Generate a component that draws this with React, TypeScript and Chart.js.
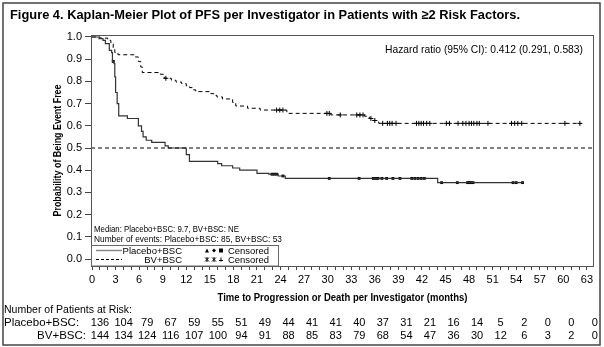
import React, { useEffect, useRef } from "react";
import { Chart, registerables } from "chart.js";

Chart.register(...registerables);

const FONT = '"Liberation Sans", Arial, Helvetica, sans-serif';

// Kaplan-Meier step points (time in months, survival probability)
const placeboTimes = [0, 0.9, 1.4, 1.7, 2.2, 2.5, 2.6, 2.8, 2.9, 3.0, 3.2, 3.4, 4.5, 5.9, 6.3, 6.5, 6.9, 7.6, 9.3, 9.7, 12.0, 12.4, 16.0, 16.5, 17.9, 18.8, 21.0, 22.5, 23.7, 24.6, 44.0, 54.9];
const placeboSurv = [1.0, 0.993, 0.985, 0.97, 0.94, 0.93, 0.89, 0.88, 0.82, 0.75, 0.7, 0.645, 0.633, 0.6, 0.575, 0.55, 0.535, 0.525, 0.51, 0.5, 0.47, 0.44, 0.43, 0.42, 0.41, 0.4, 0.386, 0.382, 0.374, 0.363, 0.344, 0.344];
const placeboCensor = [2.7, 22.9, 23.2, 23.5, 24.3, 30.2, 34.0, 35.8, 36.1, 36.4, 36.9, 37.5, 38.3, 39.2, 40.7, 41.1, 41.5, 41.9, 42.3, 44.5, 46.5, 47.8, 48.0, 48.2, 48.5, 53.6, 54.0, 54.8];

const bvTimes = [0, 1.0, 2.0, 2.4, 2.7, 2.9, 3.3, 5.5, 5.9, 6.2, 6.4, 8.7, 9.2, 10.1, 10.7, 11.4, 12.0, 12.4, 12.9, 13.2, 15.0, 15.5, 15.9, 16.6, 17.9, 18.3, 19.8, 21.4, 24.8, 30.4, 34.7, 35.3, 35.7, 36.2, 36.5, 62.2];
const bvSurv = [1.0, 0.995, 0.985, 0.97, 0.95, 0.93, 0.92, 0.91, 0.89, 0.865, 0.84, 0.832, 0.814, 0.805, 0.797, 0.79, 0.78, 0.772, 0.762, 0.754, 0.745, 0.737, 0.73, 0.721, 0.705, 0.689, 0.679, 0.671, 0.656, 0.649, 0.643, 0.633, 0.624, 0.617, 0.611, 0.611];
const bvCensor = [9.4, 23.5, 23.9, 24.3, 29.9, 30.2, 31.6, 33.7, 34.1, 34.5, 35.5, 36.0, 37.0, 37.6, 37.9, 38.2, 38.7, 41.3, 41.6, 41.9, 42.2, 42.6, 43.0, 45.1, 45.5, 46.6, 47.2, 47.6, 48.0, 48.3, 48.6, 49.0, 49.3, 50.4, 53.4, 53.8, 54.2, 54.7, 60.2, 62.1];

const yTickValues = [0, 0.1, 0.2, 0.3, 0.4, 0.5, 0.6, 0.7, 0.8, 0.9, 1.0];
const xLabelValues = [0, 3, 6, 9, 12, 15, 18, 21, 24, 27, 30, 33, 36, 39, 42, 45, 48, 51, 54, 57, 60, 63];
const xMinorValues = Array.from({ length: 64 }, (_, i) => i);

const riskTimes = xLabelValues;
const riskPlacebo = [136, 104, 79, 67, 59, 55, 51, 49, 44, 41, 41, 40, 37, 31, 21, 16, 14, 5, 2, 0, 0, 0];
const riskBV = [144, 134, 124, 116, 107, 100, 94, 91, 88, 85, 83, 79, 68, 54, 47, 36, 30, 12, 6, 3, 2, 0];

const titleText = "Figure 4. Kaplan-Meier Plot of PFS per Investigator in Patients with \u22652 Risk Factors.";
const hazardText = "Hazard ratio (95% CI): 0.412 (0.291, 0.583)";
const medianText = "Median: Placebo+BSC: 9.7, BV+BSC: NE";
const eventsText = "Number of events: Placebo+BSC: 85, BV+BSC: 53";
const xTitle = "Time to Progression or Death per Investigator (months)";
const yTitle = "Probability of Being Event Free";

const X_MIN = -0.13;
const X_MAX = 63.9;
const Y_MIN = -0.0315;
const Y_MAX = 1.009;

function survAt(times: number[], surv: number[], t: number): number {
  let s = surv[0];
  for (let i = 0; i < times.length; i++) if (times[i] <= t) s = surv[i];
  return s;
}

const overlayPlugin = {
  id: "overlay",
  afterDraw(chart: any) {
    const ctx: CanvasRenderingContext2D = chart.ctx;
    const ca = chart.chartArea;
    const xs = chart.scales.x;
    ctx.save();
    // outer border
    ctx.strokeStyle = "#444";
    ctx.lineWidth = 1.5;
    ctx.strokeRect(3, 3, 597, 342);
    // plot frame
    ctx.strokeStyle = "#555";
    ctx.lineWidth = 1;
    ctx.strokeRect(ca.left + 0.5, ca.top + 0.5, ca.right - ca.left - 1, ca.bottom - ca.top);

    ctx.fillStyle = "#000";
    ctx.textBaseline = "alphabetic";
    // title
    ctx.font = `bold 13px ${FONT}`;
    ctx.textAlign = "left";
    ctx.fillText(titleText, 10, 19, 510);

    // hazard ratio
    ctx.font = `10.5px ${FONT}`;
    ctx.textAlign = "right";
    ctx.fillText(hazardText, 583, 53, 198);

    // median & events
    ctx.font = `9.5px ${FONT}`;
    ctx.textAlign = "left";
    ctx.fillText(medianText, 94, 232, 145);
    ctx.fillText(eventsText, 94, 241.5, 188);

    // legend box
    ctx.strokeStyle = "#666";
    ctx.lineWidth = 1;
    ctx.strokeRect(ca.left + 0.5, 245.5, 187, ca.bottom - 245.5);
    // row 1
    ctx.strokeStyle = "#888";
    ctx.lineWidth = 1.5;
    ctx.beginPath();
    ctx.moveTo(96, 250.5);
    ctx.lineTo(122, 250.5);
    ctx.stroke();
    // row 2
    ctx.strokeStyle = "#000";
    ctx.lineWidth = 1;
    ctx.setLineDash([3, 2]);
    ctx.beginPath();
    ctx.moveTo(96, 259.5);
    ctx.lineTo(122, 259.5);
    ctx.stroke();
    ctx.setLineDash([]);
    ctx.font = `9.5px ${FONT}`;
    ctx.textAlign = "right";
    ctx.fillText("Placebo+BSC", 182, 254);
    ctx.fillText("BV+BSC", 182, 263);
    ctx.textAlign = "left";
    ctx.fillText("Censored", 228, 254, 41);
    ctx.fillText("Censored", 228, 263, 41);
    // censored symbols row 1: triangle, diamond, square
    ctx.fillStyle = "#000";
    ctx.beginPath();
    ctx.moveTo(205, 252.5); ctx.lineTo(209, 252.5); ctx.lineTo(207, 248.5); ctx.closePath(); ctx.fill();
    ctx.beginPath();
    ctx.moveTo(212, 250.5); ctx.lineTo(214, 248.5); ctx.lineTo(216, 250.5); ctx.lineTo(214, 252.5); ctx.closePath(); ctx.fill();
    ctx.fillRect(219, 248.5, 4, 4);
    // row 2: stars and plus
    ctx.strokeStyle = "#000";
    ctx.lineWidth = 1;
    const star = (cx: number, cy: number) => {
      ctx.beginPath();
      ctx.moveTo(cx - 2, cy - 2); ctx.lineTo(cx + 2, cy + 2);
      ctx.moveTo(cx + 2, cy - 2); ctx.lineTo(cx - 2, cy + 2);
      ctx.moveTo(cx, cy - 2.5); ctx.lineTo(cx, cy + 2.5);
      ctx.stroke();
    };
    star(207, 259.5);
    star(214, 259.5);
    ctx.beginPath();
    ctx.moveTo(219, 260.5); ctx.lineTo(223, 260.5); ctx.moveTo(221, 257.5); ctx.lineTo(221, 261.5);
    ctx.stroke();

    // axis titles
    ctx.fillStyle = "#000";
    ctx.font = `bold 10px ${FONT}`;
    ctx.textAlign = "center";
    ctx.fillText(xTitle, (ca.left + ca.right) / 2, 301, 250);
    ctx.save();
    ctx.translate(61, (ca.top + ca.bottom) / 2);
    ctx.rotate(-Math.PI / 2);
    ctx.fillText(yTitle, 0, 0, 132);
    ctx.restore();

    // risk table
    ctx.font = `11.5px ${FONT}`;
    ctx.textAlign = "left";
    ctx.fillText("Number of Patients at Risk:", 4, 313, 128);
    ctx.fillText("Placebo+BSC:", 4, 326, 82);
    ctx.textAlign = "right";
    ctx.fillText("BV+BSC:", 86, 339);
    ctx.font = `11px ${FONT}`;
    ctx.textAlign = "center";
    riskTimes.forEach((t, i) => {
      const px = xs.getPixelForValue(t) + 8;
      ctx.fillText(String(riskPlacebo[i]), px, 326);
      ctx.fillText(String(riskBV[i]), px, 339);
    });
    ctx.restore();
  },
};

export default function App() {
  const ref = useRef<HTMLCanvasElement | null>(null);
  useEffect(() => {
    document.body.style.margin = "0";
    const canvas = ref.current!;
    const placeboLine = placeboTimes.map((t, i) => ({ x: t, y: placeboSurv[i] }));
    const bvLine = bvTimes.map((t, i) => ({ x: t, y: bvSurv[i] }));
    const placeboCens = placeboCensor.map((t) => ({ x: t, y: survAt(placeboTimes, placeboSurv, t) }));
    const bvCens = bvCensor.map((t) => ({ x: t, y: survAt(bvTimes, bvSurv, t) }));
    const chart = new Chart(canvas, {
      type: "line",
      data: {
        datasets: [
          {
            label: "ref",
            data: [{ x: X_MIN, y: 0.5 }, { x: X_MAX, y: 0.5 }],
            borderColor: "#000",
            borderWidth: 1,
            borderDash: [4, 3],
            pointRadius: 0,
          },
          {
            label: "Placebo+BSC",
            data: placeboLine,
            borderColor: "#333",
            borderWidth: 1.2,
            stepped: true,
            pointRadius: 0,
          },
          {
            label: "BV+BSC",
            data: bvLine,
            borderColor: "#000",
            borderWidth: 1,
            borderDash: [4, 3],
            stepped: true,
            pointRadius: 0,
          },
          {
            label: "Placebo censored",
            data: placeboCens,
            showLine: false,
            pointStyle: "rect",
            pointRadius: 2,
            backgroundColor: "#000",
            borderColor: "#000",
            borderWidth: 0,
          },
          {
            label: "BV censored",
            data: bvCens,
            showLine: false,
            pointStyle: "cross",
            pointRadius: 2.5,
            borderColor: "#000",
            borderWidth: 1,
          },
        ],
      },
      options: {
        animation: false,
        responsive: false,
        maintainAspectRatio: false,
        devicePixelRatio: 1,
        layout: { padding: { top: 35, right: 10, left: 0, bottom: 0 } },
        plugins: { legend: { display: false }, tooltip: { enabled: false }, title: { display: false } },
        scales: {
          x: {
            type: "linear",
            min: X_MIN,
            max: X_MAX,
            afterFit: (s: any) => { s.height = 81; },
            afterBuildTicks: (s: any) => { s.ticks = xMinorValues.map((v) => ({ value: v })); },
            grid: { drawOnChartArea: false, tickLength: 4, color: "#444" },
            border: { display: false },
            ticks: {
              autoSkip: false,
              maxRotation: 0,
              padding: 3,
              color: "#000",
              font: { family: FONT, size: 11 },
              callback: (v: any) => (xLabelValues.includes(Number(v)) ? String(v) : ""),
            },
          },
          y: {
            type: "linear",
            min: Y_MIN,
            max: Y_MAX,
            afterFit: (s: any) => { s.width = 91; },
            afterBuildTicks: (s: any) => { s.ticks = yTickValues.map((v) => ({ value: v })); },
            grid: { drawOnChartArea: false, tickLength: 6, color: "#444" },
            border: { display: false },
            ticks: {
              padding: 3,
              color: "#000",
              font: { family: FONT, size: 11 },
              callback: (v: any) => Number(v).toFixed(1),
            },
          },
        },
      },
      plugins: [overlayPlugin],
    });
    return () => chart.destroy();
  }, []);
  return (
    <div style={{ position: "absolute", left: 0, top: 0, width: 604, height: 347 }}>
      <canvas ref={ref} width={604} height={347} style={{ width: 604, height: 347, display: "block" }} />
    </div>
  );
}
